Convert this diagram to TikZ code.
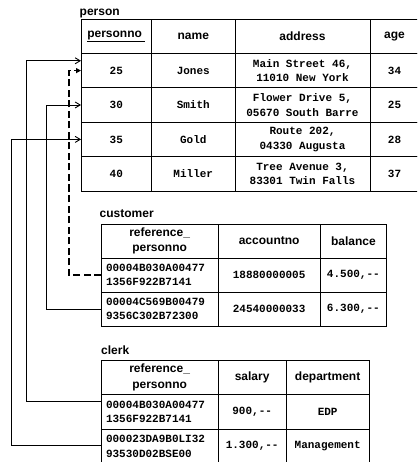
\documentclass[tikz,border=0pt]{standalone}
\usepackage{fontspec}
\setmainfont{Liberation Sans}
\setmonofont{Liberation Mono}
\usetikzlibrary{positioning, arrows.meta}

\begin{document}
\begin{tikzpicture}[x=1pt, y=1pt,
            cell/.style={draw, line width=0.9pt, inner sep=0pt, outer sep=0pt, align=center, minimum height=34.4pt}, % one table cell
            head/.style={cell, font=\fontsize{12}{15.5}\selectfont\bfseries},
            data/.style={cell, font=\fontsize{11}{14.5}\selectfont\ttfamily\bfseries},
            hex/.style={data, text width=107.3pt, inner xsep=5pt, align=left}, % left aligned key values
            title/.style={anchor=base west, inner sep=0pt, font=\fontsize{12}{13}\selectfont\bfseries},
            fk/.style={line width=0.9pt, -{Straight Barb[length=5pt, width=6pt]}},
            fkdash/.style={line width=1.8pt, dash pattern=on 7pt off 3.5pt, -{Triangle[length=5pt, width=5pt]}}
            ]
        \useasboundingbox (0,0) rectangle (417,-462);
        \clip (0,0) rectangle (417,-462);

        % person table
        \node[title] at (79.5,-15.3) {person};
        \node[head, minimum width=70.5pt, anchor=north west] (p-0-1) at (81,-19) {\underline{personno\ }};
        \node[head, minimum width=83.5pt, right=0pt of p-0-1] (p-0-2) {name};
        \node[head, minimum width=135pt, right=0pt of p-0-2] (p-0-3) {address};
        \node[head, minimum width=49pt, right=0pt of p-0-3] (p-0-4) {age};
        \foreach \no/\nm/\adr/\ag [count=\r] in {25/Jones/{Main Street 46,\\11010 New York}/34,
                30/Smith/{Flower Drive 5,\\05670 South Barre}/25,
                35/Gold/{Route 202,\\04330 Augusta}/28,
                40/Miller/{Tree Avenue 3,\\83301 Twin Falls}/37}{
            \pgfmathtruncatemacro\q{\r-1}
            \node[data, minimum width=70.5pt, below=0pt of p-\q-1] (p-\r-1) {\no};
            \node[data, minimum width=83.5pt, right=0pt of p-\r-1] (p-\r-2) {\nm};
            \node[data, minimum width=135pt, right=0pt of p-\r-2] (p-\r-3) {\adr};
            \node[data, minimum width=49pt, right=0pt of p-\r-3] (p-\r-4) {\ag};
        }

        % customer table
        \begin{scope}[cell/.append style={minimum height=34pt}]
            \node[title] at (99.5,-217.7) {customer};
            \node[head, minimum width=117.3pt, anchor=north west] (cu-0-1) at (101,-224) {reference\_\\personno};
            \node[head, minimum width=101.7pt, right=0pt of cu-0-1] (cu-0-2) {accountno};
            \node[head, minimum width=66.7pt, right=0pt of cu-0-2] (cu-0-3) {balance};
            \foreach \key/\acc/\bal [count=\r] in {{00004B030A00477\\1356F922B7141}/18880000005/{4.500,-{}-},
                    {00004C569B00479\\9356C302B72300}/24540000033/{6.300,-{}-}}{
                \pgfmathtruncatemacro\q{\r-1}
                \node[hex, minimum width=117.3pt, below=0pt of cu-\q-1] (cu-\r-1) {\key};
                \node[data, minimum width=101.7pt, right=0pt of cu-\r-1] (cu-\r-2) {\acc};
                \node[data, minimum width=66.7pt, right=0pt of cu-\r-2] (cu-\r-3) {\bal};
            }
        \end{scope}

        % clerk table
        \begin{scope}[cell/.append style={minimum height=34.5pt}]
            \node[title] at (101,-354.7) {clerk};
            \node[head, minimum width=117.3pt, anchor=north west] (cl-0-1) at (101,-360) {reference\_\\personno};
            \node[head, minimum width=67.7pt, right=0pt of cl-0-1] (cl-0-2) {salary};
            \node[head, minimum width=83.3pt, right=0pt of cl-0-2] (cl-0-3) {department};
            \foreach \key/\sal/\dep [count=\r] in {{00004B030A00477\\1356F922B7141}/{900,-{}-}/EDP,
                    {000023DA9B0LI32\\93530D02BSE00}/{1.300,-{}-}/Management}{
                \pgfmathtruncatemacro\q{\r-1}
                \node[hex, minimum width=117.3pt, below=0pt of cl-\q-1] (cl-\r-1) {\key};
                \node[data, minimum width=67.7pt, right=0pt of cl-\r-1] (cl-\r-2) {\sal};
                \node[data, minimum width=83.3pt, right=0pt of cl-\r-2] (cl-\r-3) {\dep};
            }
        \end{scope}

        % references to personno
        \draw[fkdash] (cu-1-1.west) -| ([xshift=-12pt]p-1-1.west) -- (p-1-1.west);
        \draw[fk] ([yshift=10.8pt]cl-1-1.west) -| ([xshift=-54.3pt, yshift=9.8pt]p-1-1.west) -- ([yshift=9.8pt]p-1-1.west);
        \draw[fk] (cu-2-1.west) -| ([xshift=-34.3pt]p-2-1.west) -- (p-2-1.west);
        \draw[fk] ([yshift=1pt]cl-2-1.west) -| ([xshift=-69.3pt]p-3-1.west) -- (p-3-1.west);

    \end{tikzpicture}
\end{document}
